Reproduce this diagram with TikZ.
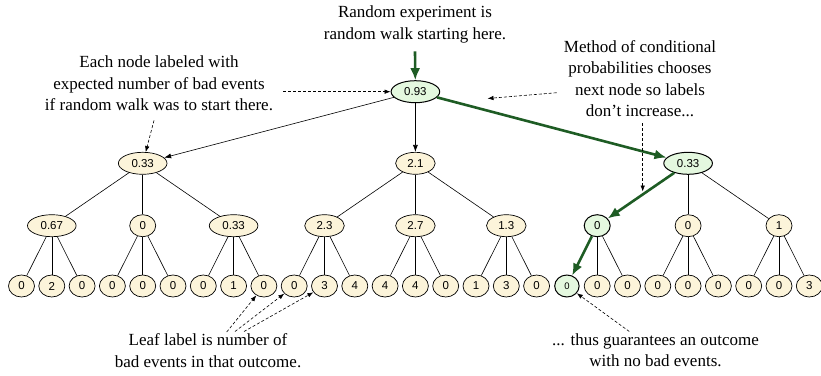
\documentclass[tikz,border=0pt]{standalone}
\usepackage{fontspec}
\setmainfont{Liberation Serif}
\setsansfont{Liberation Sans}
\usetikzlibrary{shapes.geometric,arrows.meta}

\definecolor{nodefill}{HTML}{FCF4DA}
\definecolor{pickfill}{HTML}{E4F8DF}
\definecolor{walkgreen}{HTML}{1E5C24}

\def\xLeaf{21.5}
\def\dLeaf{30.3}
\def\yRoot{91.7}
\def\yTop{163.3}
\def\yMid{225.7}
\def\yLeaf{286}

\begin{document}
\begin{tikzpicture}[x=1pt, y=-1pt,
    tree/.style={ellipse, draw, line width=0.7pt, fill=nodefill,
      font=\sffamily\fontsize{11.5}{12}\selectfont,
      inner xsep=6pt, inner ysep=1pt, minimum width=24pt, minimum height=22pt},
    picked/.style={fill=pickfill, line width=1pt},
    mid 6/.style={picked},
    leaf 18/.style={picked, font=\sffamily\fontsize{9.5}{10}\selectfont},
    branch/.style={line width=0.6pt},
    down/.style={branch, -{Latex[length=7pt, width=5pt]}},
    walk/.style={draw=walkgreen, line width=2.6pt, -{Latex[length=12pt, width=10pt]}},
    note/.style={align=center, font=\fontsize{17}{21.3}\selectfont},
    hint/.style={dash pattern=on 3pt off 2pt, line width=0.6pt,
      -{Latex[length=6pt, width=4.5pt]}},
  ]
  \useasboundingbox (0, 0) rectangle (821, 375);

  % -- leaves
  \foreach\v [count=\i from 0] in {0,2,0, 0,0,0, 0,1,0, 0,3,4, 4,4,0, 1,3,0,
                                   0,0,0, 0,0,0, 0,0,3} {
    \pgfmathsetmacro\x{\xLeaf + \dLeaf * \i}
    \node[tree, leaf \i/.try] (l\i) at (\x, \yLeaf) {\v};
  }

  % -- second level
  \foreach\v [count=\j from 0] in {0.67, 0, 0.33, 2.3, 2.7, 1.3, 0, 0, 1} {
    \pgfmathsetmacro\x{\xLeaf + \dLeaf * (3 * \j + 1)}
    \node[tree, mid \j/.try] (m\j) at (\x, \yMid) {\v};
  }

  % -- first level and root
  \foreach\v [count=\k from 0] in {0.33, 2.1} {
    \pgfmathsetmacro\x{\xLeaf + \dLeaf * (9 * \k + 4)}
    \node[tree] (t\k) at (\x, \yTop) {\v};
  }
  \node[tree, picked] (t2) at (\xLeaf + \dLeaf * 22, \yTop) {0.33};
  \node[tree, picked] (root) at (\xLeaf + \dLeaf * 13, \yRoot) {0.93};

  % -- edges
  \foreach\k in {0, 1} \draw[down] (root) -- (t\k);
  \foreach\k in {0, 1, 2} {
    \foreach\j in {0, 1, 2} {
      \pgfmathtruncatemacro\m{3 * \k + \j}
      \ifnum\m=6 \else \draw[branch] (t\k) -- (m\m); \fi
    }
  }
  \foreach\m in {0, ..., 8} {
    \foreach\j in {0, 1, 2} {
      \pgfmathtruncatemacro\n{3 * \m + \j}
      \ifnum\n=18 \else \draw[branch] (m\m) -- (l\n); \fi
    }
  }

  % -- the walk
  \draw[walk] (root) -- (t2);
  \draw[walk] (t2) -- (m6);
  \draw[walk] (m6) -- (l18);

  % -- notes
  \node[note] (startnote) at (415, 24.5) {Random experiment is\\random walk starting here.};
  \draw[walk] ([yshift=-5pt]startnote.south) -- (root);

  \node[note] (labelnote) at (159, 83.5)
    {Each node labeled with\\expected number of bad events\\if random walk was to start there.};
  \coordinate (labeltail) at (283, \yRoot);
  \draw[hint] (labeltail) -- (root.west);
  \draw[hint] ([xshift=-5pt, yshift=-6pt]labelnote.south) -- (t0.75);

  \node[note] (pathnote) at (640, 78.7)
    {Method of conditional\\probabilities chooses\\next node so labels\\don't increase...};
  \coordinate (pathtailA) at (556.7, 92.7);
  \coordinate (pathheadA) at (487.5, 98.5);
  \coordinate (pathtailB) at (642.7, 123);
  \coordinate (pathheadB) at (642.7, 191.5);
  \draw[hint] (pathtailA) -- (pathheadA);
  \draw[hint] (pathtailB) -- (pathheadB);

  \node[note] (leafnote) at (208, 350.5) {Leaf label is number of\\bad events in that outcome.};
  \coordinate (leaftailA) at (226.7, 332);
  \coordinate (leaftailB) at (235, 331.5);
  \coordinate (leaftailC) at (244, 331.5);
  \draw[hint] (leaftailA) -- (l8);
  \draw[hint] (leaftailB) -- (l9);
  \draw[hint] (leaftailC) -- (l10);

  \node[note] (goodnote) at (655.5, 350.5) {... thus guarantees an outcome\\with no bad events.};
  \coordinate (goodtail) at (629.3, 331.5);
  \draw[hint] (goodtail) -- (l18);

\end{tikzpicture}
\end{document}
